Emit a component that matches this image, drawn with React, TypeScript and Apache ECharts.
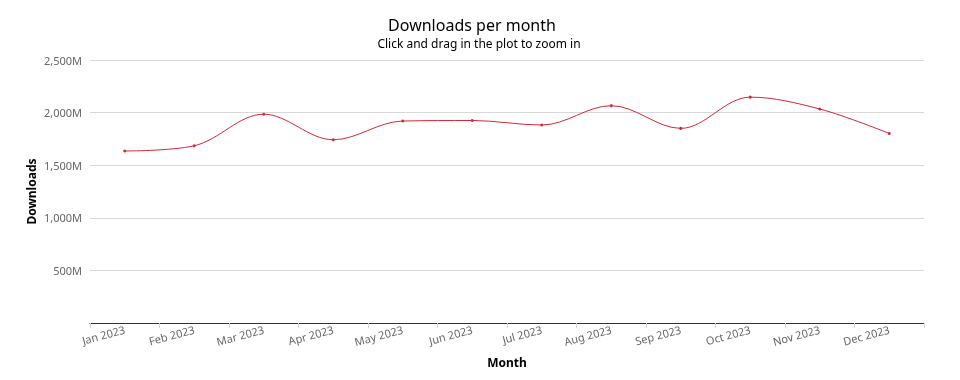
import React, { useEffect, useRef } from "react";
import * as echarts from "echarts";

const months = ["Jan 2023", "Feb 2023", "Mar 2023", "Apr 2023", "May 2023", "Jun 2023", "Jul 2023", "Aug 2023", "Sep 2023", "Oct 2023", "Nov 2023", "Dec 2023"];
const downloads = [1635, 1685, 1985, 1742, 1920, 1925, 1882, 2066, 1850, 2147, 2034, 1802];
const yTicks = [0, 500, 1000, 1500, 2000, 2500];

const FONT = '"Lucida Grande", "Lucida Sans Unicode", "Noto Sans", "DejaVu Sans", Arial, sans-serif';

export default function App() {
  const ref = useRef<HTMLDivElement>(null);
  useEffect(() => {
    if (!ref.current) return;
    const chart = echarts.init(ref.current, null, { renderer: "svg" });
    chart.setOption({
      animation: false,
      textStyle: { fontFamily: FONT },
      title: [
        {
          text: "Downloads per month",
          left: 472,
          textAlign: "center",
          top: 15,
          padding: 0,
          textStyle: { fontFamily: FONT, fontSize: 16, fontWeight: "normal", color: "#000", lineHeight: 20 },
        },
        {
          text: "Click and drag in the plot to zoom in",
          left: 479,
          textAlign: "center",
          top: 36,
          padding: 0,
          textStyle: { fontFamily: FONT, fontSize: 12, fontWeight: "normal", color: "#000", lineHeight: 14 },
        },
      ],
      grid: { left: 90, right: 36, top: 60, bottom: 57, containLabel: false },
      xAxis: {
        type: "category",
        data: months,
        boundaryGap: true,
        name: "Month",
        nameLocation: "middle",
        nameGap: 33,
        nameMoveOverlap: false,
        nameTextStyle: { fontFamily: FONT, fontSize: 12, fontWeight: "bold", color: "#000" },
        axisLine: { lineStyle: { color: "#333", width: 1 } },
        axisTick: { show: true, alignWithLabel: false, length: 5, lineStyle: { color: "#ccd6eb" } },
        axisLabel: { rotate: 15, margin: 6, color: "#666", fontSize: 11, fontFamily: FONT },
        splitLine: { show: false },
      },
      yAxis: {
        type: "value",
        min: yTicks[0],
        max: yTicks[yTicks.length - 1],
        interval: 500,
        name: "Downloads",
        nameLocation: "middle",
        nameGap: 53,
        nameMoveOverlap: false,
        nameRotate: 90,
        nameTextStyle: { fontFamily: FONT, fontSize: 12, fontWeight: "bold", color: "#000" },
        axisLine: { show: false },
        axisTick: { show: false },
        axisLabel: {
          color: "#666",
          fontSize: 11,
          margin: 8,
          fontFamily: FONT,
          formatter: (v: number) => (v === 0 ? "" : v.toLocaleString("en-US") + "M"),
        },
        splitLine: { lineStyle: { color: "#d8d8d8", width: 1 } },
      },
      series: [
        {
          type: "line",
          data: downloads,
          smooth: 0.35,
          symbol: "circle",
          symbolSize: 3,
          showSymbol: true,
          lineStyle: { color: "#d62839", width: 1 },
          itemStyle: { color: "#d62839" },
        },
      ],
    });
    return () => chart.dispose();
  }, []);
  return <div ref={ref} style={{ position: "fixed", left: 0, top: 0, width: 960, height: 380 }} />;
}
